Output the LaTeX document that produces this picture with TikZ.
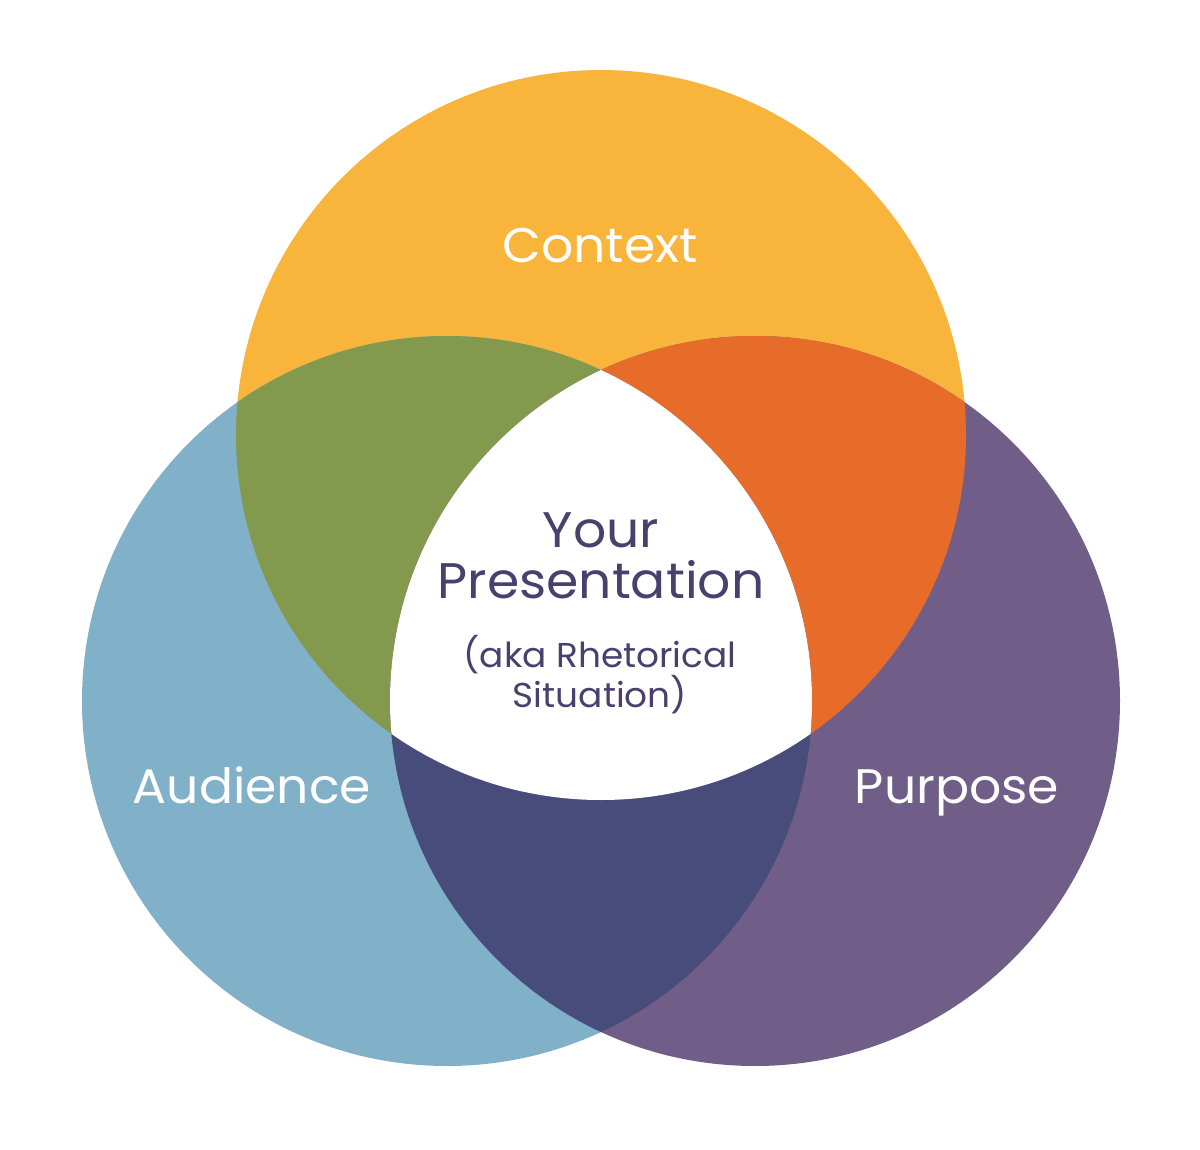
\documentclass[tikz,border=0pt]{standalone}
\usepackage{fontspec}
\setmainfont{Poppins}[FakeStretch=1.04]
\definecolor{cyellow}{HTML}{F9B43C}
\definecolor{cblue}{HTML}{80B1C8}
\definecolor{cpurple}{HTML}{705E88}
\definecolor{cgreen}{HTML}{82994E}
\definecolor{corange}{HTML}{E76C29}
\definecolor{cnavy}{HTML}{474C7A}
\definecolor{ctext}{HTML}{4B3F6E}
\begin{document}
\begin{tikzpicture}[x=1pt,y=-1pt,
  lbl/.style={text=white,anchor=base,inner sep=0pt,font=\fontsize{48.5}{48.5}\selectfont},
  mid/.style={text=ctext,anchor=base,inner sep=0pt}]
\useasboundingbox (0,0) rectangle (1200,1150);
\coordinate (T) at (601,435);
\coordinate (L) at (447,701);
\coordinate (R) at (755,701);
\def\rad{365}
\fill[cyellow] (T) circle (\rad);
\fill[cblue] (L) circle (\rad);
\fill[cpurple] (R) circle (\rad);
\begin{scope}
  \clip (T) circle (\rad);
  \fill[cgreen] (L) circle (\rad);
  \fill[corange] (R) circle (\rad);
\end{scope}
\begin{scope}
  \clip (L) circle (\rad);
  \fill[cnavy] (R) circle (\rad);
\end{scope}
\begin{scope}
  \clip (T) circle (\rad);
  \clip (L) circle (\rad);
  \fill[white] (R) circle (\rad);
\end{scope}
\node[lbl] (ctx) at (600,263) {Context};
\node[lbl] (aud) at (252,803) {Audience};
\node[lbl] (pur) at (957,803) {Purpose};
\node[mid,font=\fontsize{50}{50}\selectfont] (your) at (601,547) {Your};
\node[mid,font=\fontsize{50}{50}\selectfont] (pres) at (601,598) {Presentation};
\node[mid,font=\fontsize{34.5}{34.5}\selectfont] (aka) at (600,667) {(aka Rhetorical};
\node[mid,font=\fontsize{34.5}{34.5}\selectfont] (sit) at (600,707) {Situation)};
\end{tikzpicture}
\end{document}
